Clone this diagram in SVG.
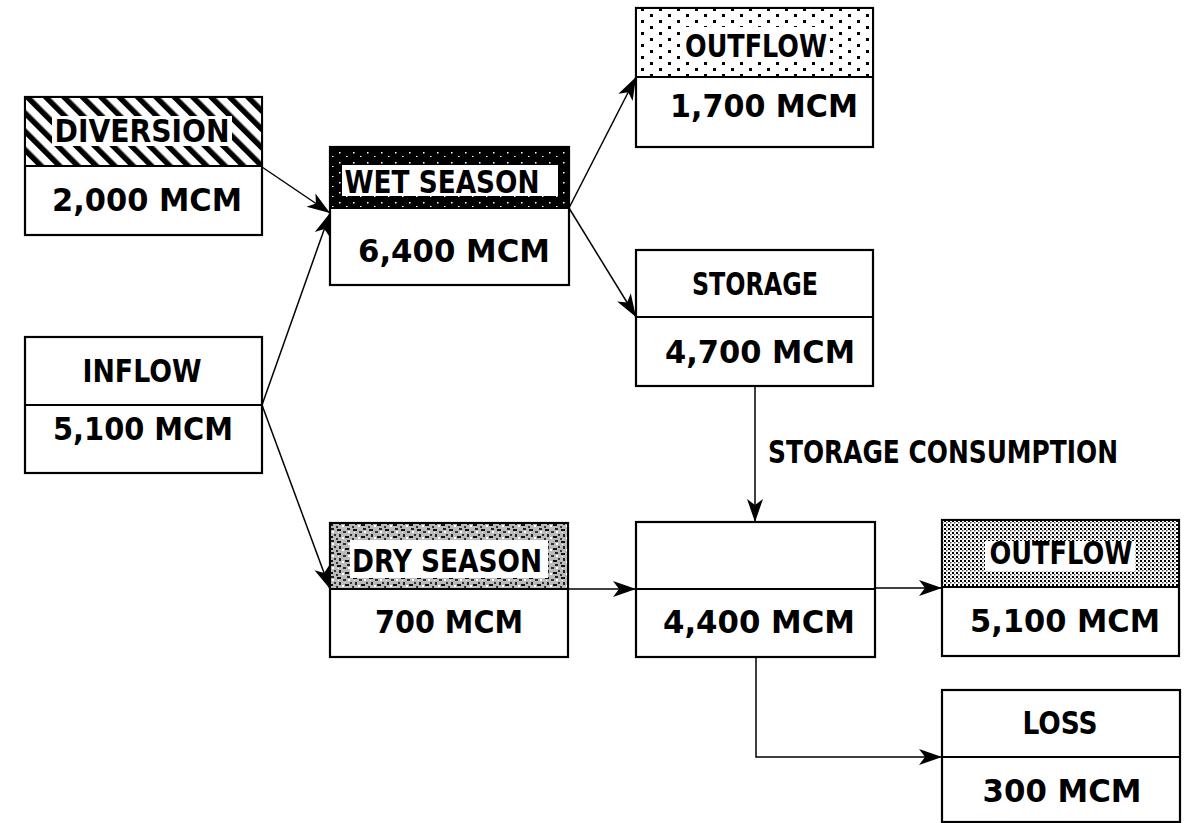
<svg xmlns="http://www.w3.org/2000/svg" width="1199" height="823" viewBox="0 0 1199 823">
<style>
.box{fill:#fff;stroke:#000;stroke-width:2.2}
.div{stroke:#000;stroke-width:2}
.t{font-family:"DejaVu Sans Condensed","DejaVu Sans",sans-serif;font-weight:bold;font-size:32px;fill:#000;text-anchor:middle}
.c{fill:none;stroke:#000;stroke-width:1.5}
.w{fill:#fff}
</style>
<defs>
<marker id="ah" markerUnits="userSpaceOnUse" markerWidth="26" markerHeight="18" refX="23" refY="9" orient="auto">
<path d="M0,1 L23,9 L0,17 L6,9 Z" fill="#000"/>
</marker>
<pattern id="hatch" patternUnits="userSpaceOnUse" width="13" height="13" patternTransform="rotate(-45)">
<rect width="13" height="13" fill="#fff"/>
<rect x="0" y="0" width="5.5" height="13" fill="#000"/>
</pattern>
<pattern id="sparse" patternUnits="userSpaceOnUse" width="18" height="12">
<rect width="18" height="12" fill="#fff"/>
<rect x="2" y="2" width="3" height="3" fill="#000"/>
<rect x="11" y="8" width="3" height="3" fill="#000"/>
</pattern>
<pattern id="dense" patternUnits="userSpaceOnUse" width="4" height="4">
<rect width="4" height="4" fill="#fff"/>
<rect x="0" y="0" width="2" height="2" fill="#000"/>
<rect x="2" y="2" width="1.5" height="1.5" fill="#555"/>
</pattern>
<pattern id="speck" patternUnits="userSpaceOnUse" width="16" height="12">
<rect width="16" height="12" fill="#bbb"/>
<rect x="1" y="1" width="4" height="2" fill="#111"/>
<rect x="7" y="3" width="3" height="2" fill="#333"/>
<rect x="11" y="0" width="3" height="2" fill="#222"/>
<rect x="3" y="6" width="2" height="3" fill="#222"/>
<rect x="9" y="8" width="4" height="2" fill="#111"/>
<rect x="14" y="6" width="2" height="2" fill="#333"/>
<rect x="0" y="10" width="2" height="2" fill="#333"/>
<rect x="6" y="9" width="2" height="2" fill="#fff"/>
<rect x="12" y="3" width="2" height="2" fill="#fff"/>
<rect x="2" y="4" width="1" height="1" fill="#fff"/>
</pattern>
<pattern id="blackspeck" patternUnits="userSpaceOnUse" width="14" height="10">
<rect width="14" height="10" fill="#000"/>
<rect x="3" y="2" width="1.5" height="1.5" fill="#fff"/>
<rect x="10" y="6" width="1.5" height="1" fill="#fff"/>
</pattern>
</defs>

<g id="connectors">
<path class="c" d="M262,167 L330,213" marker-end="url(#ah)"/>
<path class="c" d="M262,405 L330,213" marker-end="url(#ah)"/>
<path class="c" d="M262,405 L330,589" marker-end="url(#ah)"/>
<path class="c" d="M569,208 L636,77" marker-end="url(#ah)"/>
<path class="c" d="M569,208 L636,317" marker-end="url(#ah)"/>
<path class="c" d="M755,386 L755,522" marker-end="url(#ah)"/>
<path class="c" d="M567,589 L636,589" marker-end="url(#ah)"/>
<path class="c" d="M875,588 L942,588" marker-end="url(#ah)"/>
<path class="c" d="M756,657 L756,757 L942,757" marker-end="url(#ah)"/>
<text class="t" x="943" y="463" textLength="350" lengthAdjust="spacingAndGlyphs">STORAGE CONSUMPTION</text>
</g>

<g id="diversion">
<rect class="box" x="25" y="97" width="237" height="138"/>
<rect x="26" y="98" width="235" height="68" fill="url(#hatch)"/>
<rect class="w" x="52" y="116" width="180" height="30"/>
<line class="div" x1="25" y1="166" x2="262" y2="166"/>
<text class="t" x="142" y="142" textLength="175" lengthAdjust="spacingAndGlyphs">DIVERSION</text>
<text class="t" x="147" y="211" textLength="190" lengthAdjust="spacingAndGlyphs">2,000 MCM</text>
</g>

<g id="wet-season">
<rect class="box" x="330" y="147" width="239" height="138"/>
<rect x="330" y="147" width="239" height="61" fill="url(#blackspeck)"/>
<rect class="w" x="342" y="165" width="216" height="31"/>
<line class="div" x1="330" y1="208" x2="569" y2="208"/>
<text class="t" x="442" y="193" textLength="195" lengthAdjust="spacingAndGlyphs">WET SEASON</text>
<text class="t" x="454" y="262" textLength="192" lengthAdjust="spacingAndGlyphs">6,400 MCM</text>
</g>

<g id="outflow-top">
<rect class="box" x="636" y="8" width="237" height="139"/>
<rect x="637" y="9" width="235" height="68" fill="url(#sparse)"/>
<rect class="w" x="680" y="27" width="148" height="33"/>
<line class="div" x1="636" y1="77" x2="873" y2="77"/>
<text class="t" x="756" y="57" textLength="142" lengthAdjust="spacingAndGlyphs">OUTFLOW</text>
<text class="t" x="764" y="117" textLength="188" lengthAdjust="spacingAndGlyphs">1,700 MCM</text>
</g>

<g id="inflow">
<rect class="box" x="25" y="337" width="237" height="136"/>
<line class="div" x1="25" y1="405" x2="262" y2="405"/>
<text class="t" x="142" y="382" textLength="119" lengthAdjust="spacingAndGlyphs">INFLOW</text>
<text class="t" x="143" y="440" textLength="180" lengthAdjust="spacingAndGlyphs">5,100 MCM</text>
</g>

<g id="dry-season">
<rect class="box" x="330" y="523" width="238" height="134"/>
<rect x="331" y="524" width="236" height="65" fill="url(#speck)"/>
<rect class="w" x="350" y="540" width="198" height="38"/>
<line class="div" x1="330" y1="589" x2="568" y2="589"/>
<text class="t" x="447" y="572" textLength="190" lengthAdjust="spacingAndGlyphs">DRY SEASON</text>
<text class="t" x="449" y="633" textLength="148" lengthAdjust="spacingAndGlyphs">700 MCM</text>
</g>

<g id="storage">
<rect class="box" x="636" y="250" width="237" height="136"/>
<line class="div" x1="636" y1="317" x2="873" y2="317"/>
<text class="t" x="755" y="295" textLength="126" lengthAdjust="spacingAndGlyphs">STORAGE</text>
<text class="t" x="760" y="363" textLength="190" lengthAdjust="spacingAndGlyphs">4,700 MCM</text>
</g>

<g id="consumption">
<rect class="box" x="636" y="522" width="239" height="135"/>
<line class="div" x1="636" y1="589" x2="875" y2="589"/>
<text class="t" x="759" y="633" textLength="192" lengthAdjust="spacingAndGlyphs">4,400 MCM</text>
</g>

<g id="outflow-bottom">
<rect class="box" x="942" y="520" width="237" height="136"/>
<rect x="943" y="521" width="235" height="66" fill="url(#dense)"/>
<rect class="w" x="985" y="541" width="150" height="30"/>
<line class="div" x1="942" y1="587" x2="1179" y2="587"/>
<text class="t" x="1061" y="564" textLength="143" lengthAdjust="spacingAndGlyphs">OUTFLOW</text>
<text class="t" x="1065" y="632" textLength="190" lengthAdjust="spacingAndGlyphs">5,100 MCM</text>
</g>

<g id="loss">
<rect class="box" x="942" y="690" width="238" height="132"/>
<line class="div" x1="942" y1="757" x2="1180" y2="757"/>
<text class="t" x="1060" y="734" textLength="75" lengthAdjust="spacingAndGlyphs">LOSS</text>
<text class="t" x="1062" y="802" textLength="159" lengthAdjust="spacingAndGlyphs">300 MCM</text>
</g>
</svg>
